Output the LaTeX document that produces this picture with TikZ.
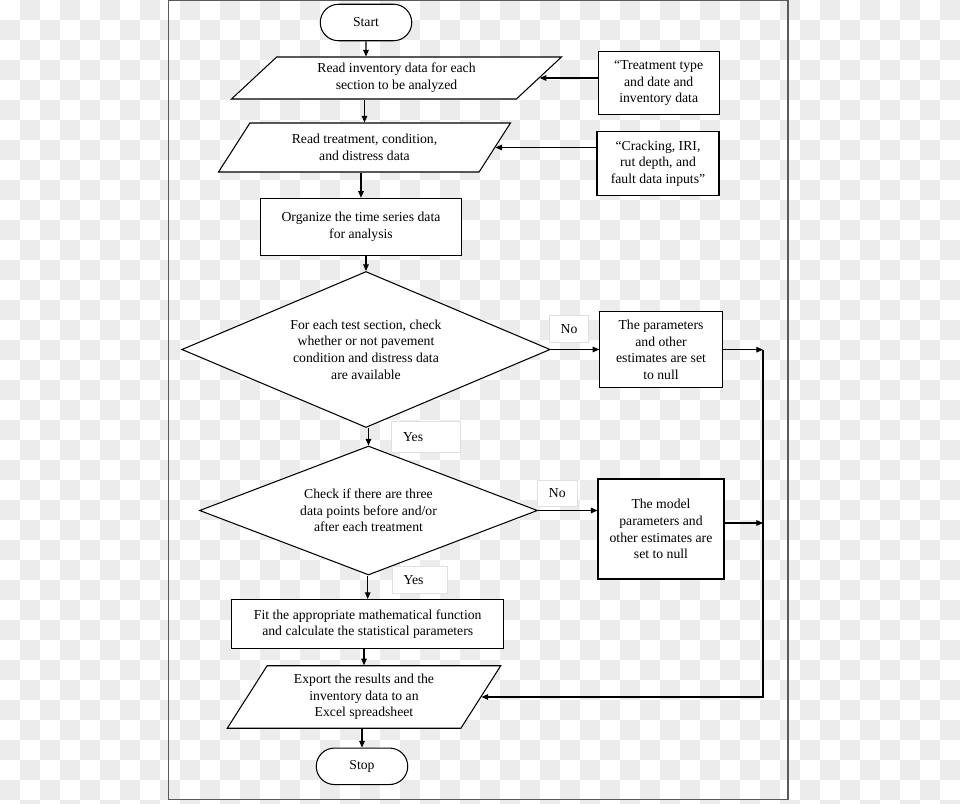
\documentclass[tikz,border=0pt]{standalone}
\usepackage{fontspec}
\setmainfont{Liberation Serif}
\usetikzlibrary{arrows.meta,shapes.geometric,shapes.misc}
\definecolor{checker}{HTML}{ECECEC}
\definecolor{framegray}{HTML}{5A5A5A}

\begin{document}
\begin{tikzpicture}[
    x=0.02cm, y=-0.02cm,
    >={Triangle[length=3.8pt,width=3.2pt]},
    every node/.style={font=\fontsize{7.8}{9.5}\selectfont},
    terminal/.style={rounded rectangle, draw, fill=white, line width=0.6pt, minimum width=1.83cm, minimum height=0.73cm, inner sep=0pt},
    io/.style={trapezium, trapezium stretches body, draw, fill=white, line width=0.6pt, inner sep=0pt, align=center},
    process/.style={rectangle, draw, fill=white, line width=0.6pt, inner sep=0pt, align=center},
    decision/.style={diamond, draw, fill=white, line width=0.6pt, inner sep=0pt, align=center},
    answer/.style={rectangle, draw=black!12, fill=white, line width=0.4pt, inner sep=0pt, align=center},
    flow/.style={->, line width=0.6pt}
]
    \useasboundingbox (0,0) rectangle (960,804);
    % background
    \fill[white] (0,0) rectangle (960,804);
    \foreach \j in {0,...,40} {
        \pgfmathtruncatemacro{\first}{mod(\j+1,2)}
        \pgfmathtruncatemacro{\second}{\first+2}
        \foreach \i in {\first,\second,...,47}
            \fill[checker] (20*\i,20*\j) rectangle ++(20,20);
    }
    \draw[framegray, line width=0.6pt] (168.5,0.5) rectangle (788,799.5);

    \node[terminal] (start) at (366,22.5) {Start};
    \node[io, trapezium left angle=33, trapezium right angle=147, minimum width=6.6cm, minimum height=0.84cm] (read1) at (396.5,78) {Read inventory data for each\\section to be analyzed};
    \node[io, trapezium left angle=40, trapezium right angle=140, minimum width=5.84cm, minimum height=0.98cm] (read2) at (364.5,147.5) {Read treatment, condition,\\and distress data};
    \node[process, minimum width=2.42cm, minimum height=1.26cm] (in1) at (658.7,83) {“Treatment type\\and date and\\inventory data};
    \node[process, minimum width=2.44cm, minimum height=1.28cm] (in2) at (658,163.7) {“Cracking, IRI,\\rut depth, and\\fault data inputs”};
    \node[process, minimum width=4.02cm, minimum height=1.15cm] (org) at (361,227) {Organize the time series data\\for analysis};

    \node[decision, aspect=2.36, minimum width=7.37cm, minimum height=3.12cm] (dec1) at (366,349.5) {For each test section, check\\whether or not pavement\\condition and distress data\\are available};
    \node[answer, minimum width=0.78cm, minimum height=0.55cm] (no1) at (569,329) {No};
    \node[process, minimum width=2.45cm, minimum height=1.52cm] (null1) at (661,349.7) {The parameters\\and other\\estimates are set\\to null};
    \node[answer, text width=0.9cm, inner xsep=0.24cm, align=left, minimum height=0.63cm] (yes1) at (425.7,437) {Yes};

    \node[decision, aspect=2.62, minimum width=6.76cm, minimum height=2.58cm] (dec2) at (368.5,510.5) {Check if there are three\\data points before and/or\\after each treatment};
    \node[answer, minimum width=0.79cm, minimum height=0.53cm] (no2) at (557.3,493.3) {No};
    \node[process, minimum width=2.52cm, minimum height=2cm] (null2) at (661,529) {The model\\parameters and\\other estimates are\\set to null};
    \node[answer, text width=0.66cm, inner xsep=0.22cm, align=left, minimum height=0.55cm] (yes2) at (420,580) {Yes};

    \node[process, minimum width=5.45cm, minimum height=0.98cm] (fit) at (367.7,624) {Fit the appropriate mathematical function\\and calculate the statistical parameters};
    \node[io, trapezium left angle=49, trapezium right angle=131, minimum width=5.47cm, minimum height=1.25cm] (export) at (364,697) {Export the results and the\\inventory data to an\\Excel spreadsheet};
    \node[terminal] (stop) at (362,766.3) {Stop};
    \coordinate (bus) at (763,351);
    \coordinate (ret2) at ([yshift=0.12cm]null2.east);

    \draw[flow] (start) -- (start |- read1.north);
    \foreach \a/\b in {read1/read2, read2/org, org/dec1, dec1/dec2, dec2/fit, fit/export, export/stop}
        \draw[flow] (\b.north |- \a.south) -- (\b.north);

    \draw[flow] (read1.east -| in1.west) -- (read1.east);
    \draw[flow] (read2.east -| in2.west) -- (read2.east);
    \draw[flow] (dec1.east) -- (dec1.east -| null1.west);
    \draw[flow] (dec2.east) -- (dec2.east -| null2.west);
    \draw[flow] (null1.east) -- (null1.east -| bus);
    \draw[flow] (ret2) -- (ret2 -| bus);
    \draw[flow] (null1.east -| bus) -- (bus |- export.east) -- (export.east);
\end{tikzpicture}
\end{document}
